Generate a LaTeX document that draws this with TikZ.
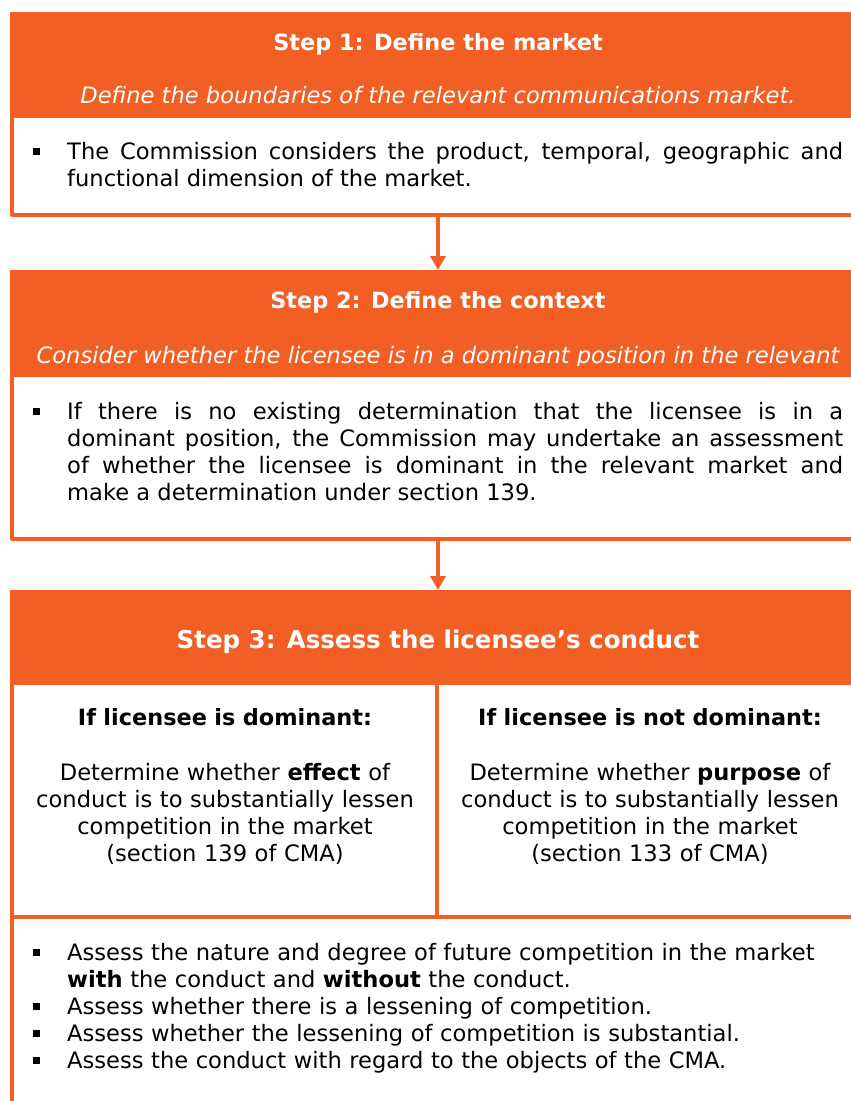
\documentclass[tikz,border=0pt]{standalone}
\usepackage{fontspec}
\setmainfont{DejaVu Sans}
\usetikzlibrary{arrows.meta}
\definecolor{cam}{RGB}{241,95,36}
\newcommand{\sqb}{\rule[4pt]{7pt}{7pt}}
\newcommand{\muc}[1]{\hangindent=34pt\noindent\makebox[34pt][l]{\sqb}#1\par}
\hyphenpenalty=10000
\begin{document}
\begin{tikzpicture}[x=1pt,y=-1pt,line join=round,font=\fontsize{22.6}{27}\selectfont,
	khung/.style={draw=cam,line width=4pt,fill=white,outer sep=0pt,inner sep=0pt,anchor=north west,minimum width=851pt},
	dau/.style={fill=cam,outer sep=0pt,inner sep=0pt,anchor=north west,minimum width=855pt},
	tieude/.style={text=white,inner sep=0pt,anchor=base,font=\fontsize{22.4}{27}\selectfont\bfseries},
	phude/.style={text=white,inner sep=0pt,anchor=base,font=\fontsize{22.6}{27}\selectfont\itshape},
	noidung/.style={inner sep=0pt,anchor=base west,text width=810pt,align=justify},
	cot/.style={inner sep=0pt,anchor=base,text width=420pt,align=center},
	muiten/.style={draw=cam,line width=3.5pt,-{Triangle[width=15pt,length=14pt]}},
	vien/.style={draw=cam,line width=4pt}]
	\useasboundingbox (0,0) rectangle (851,1101);
	\clip (0,0) rectangle (851,1101);
	%Vẽ các khung
	\node[khung,minimum height=99pt] (than1) at (12,116) {};
	\node[dau,minimum height=106pt] (dau1) at (10,12) {};
	\node[khung,minimum height=164pt] (than2) at (12,375) {};
	\node[dau,minimum height=107pt] (dau2) at (10,270) {};
	\node[khung,minimum height=450pt] (than3) at (12,683) {};
	\node[dau,minimum height=95pt] (dau3) at (10,590) {};
	\draw[vien] (437,685) -- (437,917);
	\draw[vien] (12,917) -- (863,917);
	%Bước 1
	\node[tieude] (buoc1) at (438,50) {Step 1: Define the market};
	\node[phude] (mota1) at (438,103) {Define the boundaries of the relevant communications market.};
	\node[noidung] (nd1) at (33,159) {\muc{The Commission considers the product, temporal, geographic and\linebreak functional dimension of the market.}};
	%Bước 2
	\node[tieude] (buoc2) at (438,308) {Step 2: Define the context};
	\begin{scope}
		\clip (10,270) rectangle (865,365);
		\node[phude] (mota2) at (438,363) {Consider whether the licensee is in a dominant position in the relevant};
	\end{scope}
	\node[noidung] (nd2) at (33,419) {\muc{If there is no existing determination that the licensee is in a\linebreak dominant position, the Commission may undertake an assessment\linebreak of whether the licensee is dominant in the relevant market and\linebreak make a determination under section 139.}};
	%Bước 3
	\node[tieude,font=\fontsize{24.5}{30}\selectfont\bfseries] (buoc3) at (438,648) {Step 3: Assess the licensee’s conduct};
	\node[cot,font=\fontsize{22.4}{27}\selectfont\bfseries] (trai) at (225,725) {If licensee is dominant:};
	\node[cot] (traind) at (225,780) {Determine whether \textbf{effect} of\\conduct is to substantially lessen\\competition in the market\\(section 139 of CMA)};
	\node[cot,font=\fontsize{22.4}{27}\selectfont\bfseries] (phai) at (650,725) {If licensee is not dominant:};
	\node[cot] (phaind) at (650,780) {Determine whether \textbf{purpose} of\\conduct is to substantially lessen\\competition in the market\\(section 133 of CMA)};
	\node[noidung,align=left] (nd3) at (33,960) {\muc{Assess the nature and degree of future competition in the market\newline\textbf{with} the conduct and \textbf{without} the conduct.}\muc{Assess whether there is a lessening of competition.}\muc{Assess whether the lessening of competition is substantial.}\muc{Assess the conduct with regard to the objects of the CMA.}};
	%Vẽ các mũi tên
	\draw[muiten] (buoc1 |- than1.south) -- (buoc1 |- dau2.north);
	\draw[muiten] (buoc1 |- than2.south) -- (buoc1 |- dau3.north);
\end{tikzpicture}
\end{document}
